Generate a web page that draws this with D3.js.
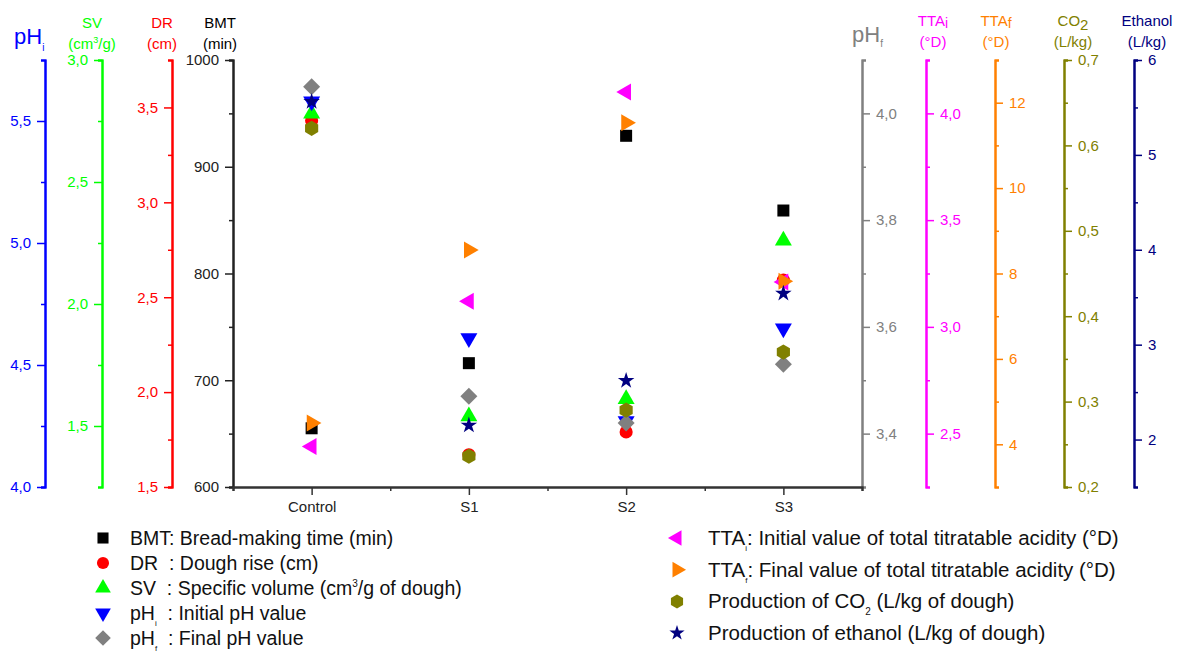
<!DOCTYPE html>
<html>
<head>
<meta charset="utf-8">
<script src="https://cdn.jsdelivr.net/npm/d3@7"></script>
<style>
body { margin: 0; background: #fff; }
svg { font-family: "Liberation Sans", Arial, sans-serif; }
text { white-space: pre; }
</style>
</head>
<body>
<svg id="chart" width="1180" height="652"></svg>
<script>
// values, one entry per sample
var categories = ["Control", "S1", "S2", "S3"]
var bmt = [655, 716, 929, 859]
var dr = [3.43, 1.67, 1.79, 2.59]
var sv = [2.78, 1.54, 1.61, 2.26]
var phI = [5.58, 4.61, 4.27, 4.65]
var phF = [4.05, 3.47, 3.42, 3.53]
var ttaI = [2.44, 3.12, 4.10, 3.21]
var ttaF = [4.5, 8.55, 11.53, 7.82]
var co2 = [0.62, 0.236, 0.29, 0.358]
var ethanol = [5.56, 2.15, 2.62, 3.54]

// axis tick values
var phITicks = [4, 4.5, 5, 5.5]
var svTicks = [1.5, 2, 2.5, 3]
var drTicks = [1.5, 2, 2.5, 3, 3.5]
var bmtTicks = [600, 700, 800, 900, 1000]
var phFTicks = [3.4, 3.6, 3.8, 4.0]
var ttaITicks = [2.5, 3, 3.5, 4]
var ttaFTicks = [4, 6, 8, 10, 12]
var co2Ticks = [0.2, 0.3, 0.4, 0.5, 0.6, 0.7]
var ethanolTicks = [2, 3, 4, 5, 6]

var svg = d3.select('#chart')
var plotTop = 60, plotBottom = 487
var plotLeft = 233, plotRight = 862

function comma(f) {
    return function (d) { return d3.format(f)(d).replace('.', ',') }
}

// text made of pieces, some raised or lowered; dy is relative so track the offset
function richText(sel, parts, size) {
    var cur = 0
    parts.forEach(function (p) {
        var target = 0, fs = size
        if (p.sub) { target = p.shift || size * 0.35; fs = p.size || size * 0.55 }
        if (p.sup) { target = -(p.shift || size * 0.4); fs = p.size || size * 0.55 }
        sel.append('tspan')
            .attr('font-size', fs)
            .attr('dy', target - cur)
            .text(p.t)
        cur = target
    })
}

var axes = [
    { key: 'phI', side: 'left', x: 45, domain: [4, 5.75], ticks: phITicks, fmt: comma('.1f'), color: '#0000ff' },
    { key: 'sv', side: 'left', x: 102, domain: [1.25, 3], ticks: svTicks, fmt: comma('.1f'), color: '#00ff00' },
    { key: 'dr', side: 'left', x: 172, domain: [1.5, 3.75], ticks: drTicks, fmt: comma('.1f'), color: '#ff0000' },
    { key: 'bmt', side: 'left', x: plotLeft, domain: [600, 1000], ticks: bmtTicks, fmt: d3.format('d'), color: '#222222' },
    { key: 'phF', side: 'right', x: plotRight, domain: [3.3, 4.1], ticks: phFTicks, fmt: comma('.1f'), color: '#808080' },
    { key: 'ttaI', side: 'right', x: 926, domain: [2.25, 4.25], ticks: ttaITicks, fmt: comma('.1f'), color: '#ff00ff' },
    { key: 'ttaF', side: 'right', x: 995, domain: [3, 13], ticks: ttaFTicks, fmt: d3.format('d'), color: '#ff8000' },
    { key: 'co2', side: 'right', x: 1064, domain: [0.2, 0.7], ticks: co2Ticks, fmt: comma('.1f'), color: '#808000' },
    { key: 'ethanol', side: 'right', x: 1134, domain: [1.5, 6], ticks: ethanolTicks, fmt: d3.format('d'), color: '#000080' }
]

var scales = {}
axes.forEach(function (a) {
    var s = d3.scaleLinear().domain(a.domain).range([plotBottom, plotTop])
    scales[a.key] = s
    var step = a.ticks[1] - a.ticks[0]
    var minor = a.ticks.map(function (t) { return t + step / 2 })
        .filter(function (t) { return t < a.domain[1] - 1e-9 })
    var axisFn = a.side == 'left' ? d3.axisLeft : d3.axisRight
    var g = svg.append('g')
        .attr('transform', 'translate(' + a.x + ',0)')
        .attr('color', a.color)
    g.append('g').call(axisFn(s).tickValues(minor).tickSize(4).tickSizeOuter(4).tickFormat(''))
    g.append('g').call(axisFn(s).tickValues(a.ticks).tickSize(8).tickSizeOuter(4).tickPadding(6).tickFormat(a.fmt))
    g.selectAll('.domain').attr('stroke-width', 2)
    g.selectAll('.tick line').attr('stroke-width', 1.5)
    g.selectAll('text').attr('font-size', 15).attr('font-family', '"Liberation Sans", Arial, sans-serif')
})

// x axis
var xScale = d3.scaleLinear().domain([0.5, 4.5]).range([plotLeft, plotRight])
var xg = svg.append('g')
    .attr('transform', 'translate(0,' + plotBottom + ')')
    .attr('color', '#333')
xg.append('g').call(d3.axisBottom(xScale).tickValues([1.5, 2.5, 3.5]).tickSize(4).tickSizeOuter(4).tickFormat(''))
xg.append('g').call(d3.axisBottom(xScale).tickValues([1, 2, 3, 4]).tickSize(8).tickSizeOuter(4).tickPadding(6)
    .tickFormat(function (d) { return categories[d - 1] }))
xg.selectAll('.domain').attr('stroke-width', 2)
xg.selectAll('.tick line').attr('stroke-width', 1.5)
xg.selectAll('text').attr('font-size', 15).attr('fill', '#222').attr('font-family', '"Liberation Sans", Arial, sans-serif')

// axis titles
var titles = [
    { x: 14, y: 44, anchor: 'start', size: 22, color: '#0000ff', lines: [[{ t: 'pH' }, { t: 'i', sub: true, size: 10, shift: 7 }]] },
    { x: 92, y: 28, anchor: 'middle', size: 15, color: '#00ff00', lines: [[{ t: 'SV' }], [{ t: '(cm' }, { t: '3', sup: true, size: 9, shift: 6 }, { t: '/g)' }]] },
    { x: 162, y: 28, anchor: 'middle', size: 15, color: '#ff0000', lines: [[{ t: 'DR' }], [{ t: '(cm)' }]] },
    { x: 220, y: 28, anchor: 'middle', size: 15, color: '#000', lines: [[{ t: 'BMT' }], [{ t: '(min)' }]] },
    { x: 852, y: 42, anchor: 'start', size: 22, color: '#808080', lines: [[{ t: 'pH' }, { t: 'f', sub: true, size: 10, shift: 5 }]] },
    { x: 933, y: 26, anchor: 'middle', size: 15, color: '#ff00ff', lines: [[{ t: 'TTA' }, { t: 'i', sub: true, size: 14, shift: 2 }], [{ t: '(°D)' }]] },
    { x: 996, y: 26, anchor: 'middle', size: 15, color: '#ff8000', lines: [[{ t: 'TTA' }, { t: 'f', sub: true, size: 14, shift: 2 }], [{ t: '(°D)' }]] },
    { x: 1073, y: 26, anchor: 'middle', size: 15, color: '#808000', lines: [[{ t: 'CO' }, { t: '2', sub: true, size: 15, shift: 4 }], [{ t: '(L/kg)' }]] },
    { x: 1147, y: 26, anchor: 'middle', size: 15, color: '#000080', lines: [[{ t: 'Ethanol' }], [{ t: '(L/kg)' }]] }
]
titles.forEach(function (tt) {
    tt.lines.forEach(function (line, i) {
        var t = svg.append('text')
            .attr('x', tt.x).attr('y', tt.y + i * 21)
            .attr('text-anchor', tt.anchor)
            .attr('font-size', tt.size)
            .attr('fill', tt.color)
        richText(t, line, tt.size)
    })
})

// marker shapes
var hexagon = {
    draw: function (ctx, size) {
        var r = Math.sqrt(size / (1.5 * Math.sqrt(3)))
        for (var i = 0; i < 6; i++) {
            var a = Math.PI / 3 * i - Math.PI / 2
            if (i == 0) ctx.moveTo(r * Math.cos(a), r * Math.sin(a))
            else ctx.lineTo(r * Math.cos(a), r * Math.sin(a))
        }
        ctx.closePath()
    }
}

var series = [
    { key: 'bmt', values: bmt, color: '#000000', type: d3.symbolSquare, size: 144, rot: 0 },
    { key: 'dr', values: dr, color: '#ff0000', type: d3.symbolCircle, size: 135, rot: 0 },
    { key: 'sv', values: sv, color: '#00ff00', type: d3.symbolTriangle, size: 125, rot: 0 },
    { key: 'phI', values: phI, color: '#0000ff', type: d3.symbolTriangle, size: 125, rot: 180 },
    { key: 'phF', values: phF, color: '#808080', type: d3.symbolSquare, size: 144, rot: 45 },
    { key: 'ttaI', values: ttaI, color: '#ff00ff', type: d3.symbolTriangle, size: 125, rot: -90 },
    { key: 'ttaF', values: ttaF, color: '#ff8000', type: d3.symbolTriangle, size: 125, rot: 90 },
    { key: 'co2', values: co2, color: '#808000', type: hexagon, size: 150, rot: 0 },
    { key: 'ethanol', values: ethanol, color: '#000080', type: d3.symbolStar, size: 85, rot: 0 }
]

series.forEach(function (s) {
    var y = scales[s.key]
    svg.append('g').selectAll('path')
        .data(s.values)
        .enter().append('path')
        .attr('d', d3.symbol().type(s.type).size(s.size))
        .attr('fill', s.color)
        .attr('transform', function (d, i) {
            return 'translate(' + xScale(i + 1) + ',' + y(d) + ') rotate(' + s.rot + ')'
        })
})

// legend
var legendLeft = [
    [{ t: 'BMT: Bread-making time (min)' }],
    [{ t: 'DR  : Dough rise (cm)' }],
    [{ t: 'SV  : Specific volume (cm' }, { t: '3', sup: true, size: 10, shift: 8 }, { t: '/g of dough)' }],
    [{ t: 'pH' }, { t: 'i', sub: true, size: 8, shift: 6 }, { t: '  : Initial pH value' }],
    [{ t: 'pH' }, { t: 'f', sub: true, size: 8, shift: 6 }, { t: '  : Final pH value' }]
]
var legendRight = [
    [{ t: 'TTA' }, { t: 'i', sub: true, size: 8, shift: 6 }, { t: ': Initial value of total titratable acidity (°D)' }],
    [{ t: 'TTA' }, { t: 'f', sub: true, size: 8, shift: 6 }, { t: ': Final value of total titratable acidity (°D)' }],
    [{ t: 'Production of CO' }, { t: '2', sub: true, size: 10, shift: 7 }, { t: ' (L/kg of dough)' }],
    [{ t: 'Production of ethanol (L/kg of dough)' }]
]

function drawLegend(items, list, mx, tx, y0, step, fsize) {
    items.forEach(function (s, i) {
        var y = y0 + i * step
        svg.append('path')
            .attr('d', d3.symbol().type(s.type).size(s.size * 0.85)())
            .attr('fill', s.color)
            .attr('transform', 'translate(' + mx + ',' + y + ') rotate(' + s.rot + ')')
        var t = svg.append('text')
            .attr('x', tx).attr('y', y + 7)
            .attr('font-size', fsize)
            .attr('fill', '#111')
        richText(t, list[i], fsize)
    })
}
drawLegend(series.slice(0, 5), legendLeft, 103, 130, 538, 25, 19.5)
drawLegend(series.slice(5), legendRight, 677, 708, 538, 31.7, 20.5)
</script>
</body>
</html>
